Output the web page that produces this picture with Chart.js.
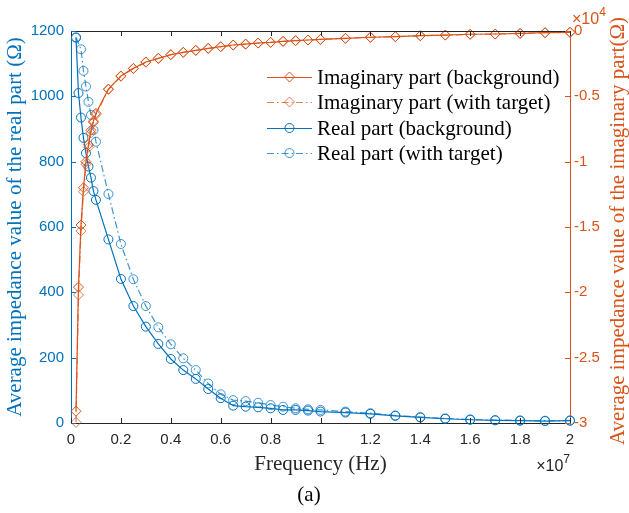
<!DOCTYPE html>
<html><head><meta charset="utf-8">
<script src="https://cdn.jsdelivr.net/npm/chart.js@4.4.1/dist/chart.umd.min.js"></script>
<style>html,body{margin:0;padding:0;background:#fff;} #wrap{width:629px;height:513px;}</style>
</head><body><div id="wrap"><canvas id="c" width="629" height="513"></canvas></div>
<script>
// Frequencies in Hz
const frequencies = [200000,300000,400000,500000,600000,700000,800000,900000,1000000,
  1500000,2000000,2500000,3000000,3500000,4000000,4500000,5000000,5500000,6000000,6500000,
  7000000,7500000,8000000,8500000,9000000,9500000,10000000,11000000,12000000,13000000,
  14000000,15000000,16000000,17000000,18000000,19000000,20000000];
// Real part (Ω), left axis
const realBackground = [1180,1010,935,873,826,785,751,710,683,
  562,441,358,295,242,196,162,135,104,76,53,
  50,48,45,40,40,38,35,32,28,22,
  17,13,10,8,7,6,7];
const realTarget = [1180,null,1144,1078,1030,983,943,897,861,
  701,548,440,358,293,241,198,162,121,88,70,
  67,62,55,50,45,42,40,35,30,23,
  18,14,11,9,8,7,8];
// Imaginary part (Ω), right axis
const imagBackground = [-29100,-19600,-14850,-12000,-10000,-8700,-7600,-6900,-6300,
  -4440,-3440,-2860,-2370,-2090,-1810,-1630,-1480,-1330,-1200,-1070,
  -1000,-920,-870,-790,-740,-690,-640,-560,-480,-430,
  -360,-310,-250,-230,-180,-130,-100];
const imagTarget = [-29950,-20200,-15300,-12300,-10200,-8900,-7800,-7000,-6400,
  -4480,-3470,-2880,-2390,-2100,-1820,-1640,-1490,-1340,-1210,-1080,
  -1010,-930,-875,-795,-745,-695,-645,-565,-485,-435,
  -365,-315,-255,-235,-185,-135,-105];
const xTickValues = [0,0.2,0.4,0.6,0.8,1,1.2,1.4,1.6,1.8,2];
const seriesLabels = ['Imaginary part (background)','Imaginary part (with target)','Real part (background)','Real part (with target)'];

const BLUE = '#0072BD', BLUE_L = 'rgba(0,114,189,0.75)';
const ORANGE = '#D95319', ORANGE_L = 'rgba(217,83,25,0.75)';
const DASHDOT = [7,3,1.5,3];
const SERIF = '"Liberation Serif","Times New Roman",serif';
const SANS = '"Liberation Sans",Arial,sans-serif';

const pts = vals => frequencies.map((f,i)=>({x:f,y:vals[i]}));

const decor = {
  id:'decor',
  afterDraw(chart){
    const {ctx, chartArea:a, scales} = chart;
    ctx.save();
    const tl = 5;
    ctx.lineWidth = 1;
    ctx.strokeStyle = '#262626';
    ctx.beginPath();
    ctx.moveTo(a.left, a.top+0.5); ctx.lineTo(a.right, a.top+0.5);
    scales.x.ticks.forEach(t=>{
      const px = Math.round(scales.x.getPixelForValue(t.value))+0.5;
      ctx.moveTo(px, a.bottom); ctx.lineTo(px, a.bottom-tl);
      ctx.moveTo(px, a.top); ctx.lineTo(px, a.top+tl);
    });
    ctx.stroke();
    ctx.strokeStyle = BLUE;
    ctx.beginPath();
    scales.yL.ticks.forEach(t=>{
      const py = Math.round(scales.yL.getPixelForValue(t.value))+0.5;
      ctx.moveTo(a.left, py); ctx.lineTo(a.left+tl, py);
    });
    ctx.stroke();
    ctx.strokeStyle = ORANGE;
    ctx.beginPath();
    scales.yR.ticks.forEach(t=>{
      const py = Math.round(scales.yR.getPixelForValue(t.value))+0.5;
      ctx.moveTo(a.right, py); ctx.lineTo(a.right-tl, py);
    });
    ctx.stroke();

    // right axis title (reads bottom to top)
    ctx.save();
    ctx.translate(618, 231);
    ctx.rotate(-Math.PI/2);
    ctx.font = '21px '+SERIF;
    ctx.fillStyle = ORANGE;
    ctx.textAlign = 'center'; ctx.textBaseline = 'middle';
    ctx.fillText('Average impedance value of the imaginary part(Ω)', 0, 0);
    ctx.restore();

    // exponent labels
    ctx.textBaseline = 'alphabetic';
    ctx.textAlign = 'left';
    ctx.fillStyle = '#262626';
    ctx.font = '16px '+SANS;
    const w1 = ctx.measureText('×10').width;
    ctx.font = '12px '+SANS;
    const w2 = ctx.measureText('7').width;
    const sx = a.right - w1 - w2;
    ctx.font = '16px '+SANS;
    ctx.fillText('×10', sx, 471);
    ctx.font = '12px '+SANS;
    ctx.fillText('7', sx+w1, 463);

    ctx.fillStyle = ORANGE;
    ctx.font = '16px '+SANS;
    ctx.fillText('×10', a.right+2, 24);
    const w3 = ctx.measureText('×10').width;
    ctx.font = '12px '+SANS;
    ctx.fillText('4', a.right+2+w3, 16);

    // caption
    ctx.fillStyle = '#000';
    ctx.font = '21px '+SERIF;
    ctx.textAlign = 'center'; ctx.textBaseline = 'middle';
    ctx.fillText('(a)', 309, 495);

    // legend
    const rows = [77,102,128,153];
    chart.data.datasets.forEach((ds,i)=>{
      const y = rows[i];
      ctx.strokeStyle = ds.borderColor;
      ctx.lineWidth = ds.borderWidth;
      ctx.setLineDash(ds.borderDash || []);
      ctx.beginPath(); ctx.moveTo(267, y+0.5); ctx.lineTo(312, y+0.5); ctx.stroke();
      ctx.setLineDash([]);
      ctx.lineWidth = 1;
      ctx.fillStyle = '#fff';
      ctx.beginPath();
      const cx = 289.5, r = ds.pointRadius;
      if (ds.pointStyle === 'rectRot') {
        ctx.moveTo(cx-r, y); ctx.lineTo(cx, y-r); ctx.lineTo(cx+r, y); ctx.lineTo(cx, y+r); ctx.closePath();
      } else {
        ctx.arc(cx, y, r, 0, Math.PI*2);
      }
      ctx.stroke();
      ctx.fillStyle = '#000';
      ctx.font = '21px '+SERIF;
      ctx.textAlign = 'left'; ctx.textBaseline = 'middle';
      ctx.fillText(ds.label, 317, y+1);
    });
    ctx.restore();
  }
};

const common = {fill:false, borderWidth:1.2, pointBorderWidth:1, pointBackgroundColor:'rgba(0,0,0,0)', tension:0, clip:false, spanGaps:true};

new Chart(document.getElementById('c'), {
  type:'line',
  data:{
    datasets:[
      Object.assign({}, common, {label:seriesLabels[0], data:pts(imagBackground), yAxisID:'yR', borderColor:ORANGE, pointBorderColor:ORANGE, pointStyle:'rectRot', pointRadius:5, order:1}),
      Object.assign({}, common, {label:seriesLabels[1], data:pts(imagTarget), yAxisID:'yR', borderColor:ORANGE_L, pointBorderColor:ORANGE_L, pointStyle:'rectRot', pointRadius:5, borderDash:DASHDOT, order:0}),
      Object.assign({}, common, {label:seriesLabels[2], data:pts(realBackground), yAxisID:'yL', borderColor:BLUE, pointBorderColor:BLUE, pointStyle:'circle', pointRadius:4.5, order:3}),
      Object.assign({}, common, {label:seriesLabels[3], data:pts(realTarget), yAxisID:'yL', borderColor:BLUE_L, pointBorderColor:BLUE_L, pointStyle:'circle', pointRadius:4.5, borderDash:DASHDOT, order:2})
    ]
  },
  options:{
    responsive:false, animation:false, devicePixelRatio:1,
    layout:{padding:{top:31,left:0,right:0,bottom:0}},
    plugins:{legend:{display:false}, tooltip:{enabled:false}},
    scales:{
      x:{type:'linear', position:'bottom', min:0, max:2e7,
        afterBuildTicks: s => { s.ticks = xTickValues.map(v=>({value:v*1e7})); },
        ticks:{callback:v=>String(Math.round(v/1e6)/10), font:{family:SANS,size:15}, color:'#262626', padding:8, maxRotation:0, autoSkip:false},
        grid:{display:false, drawTicks:false},
        border:{display:true, color:'#262626', width:1},
        title:{display:true, text:'Frequency (Hz)', font:{family:SERIF,size:21}, color:'#262626', padding:{top:0,bottom:36}},
        afterFit: s => { s.height = 90; }
      },
      yL:{type:'linear', position:'left', min:0, max:1200,
        ticks:{stepSize:200, callback:v=>String(v), font:{family:SANS,size:15}, color:BLUE, padding:7},
        grid:{display:false, drawTicks:false},
        border:{display:true, color:BLUE, width:1},
        title:{display:true, text:'Average impedance value of the real part (Ω)', font:{family:SERIF,size:21}, color:BLUE, padding:{top:3,bottom:0}},
        afterFit: s => { s.width = 71; }
      },
      yR:{type:'linear', position:'right', min:-30000, max:0,
        ticks:{stepSize:5000, callback:v=> v===0 ? '0' : String(v/1e4), font:{family:SANS,size:15}, color:ORANGE, padding:4},
        grid:{display:false, drawTicks:false},
        border:{display:true, color:ORANGE, width:1},
        afterFit: s => { s.width = 59; }
      }
    }
  },
  plugins:[decor]
});
</script>
</body></html>
